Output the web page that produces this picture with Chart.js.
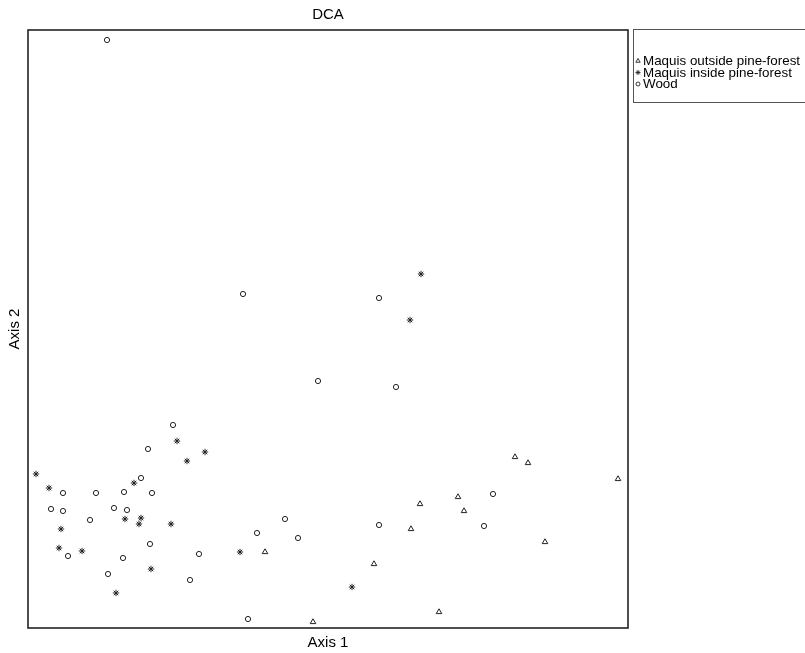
<!DOCTYPE html>
<html>
<head>
<meta charset="utf-8">
<script src="https://cdn.jsdelivr.net/npm/chart.js@4.4.1/dist/chart.umd.min.js"></script>
<style>
  html, body { margin: 0; padding: 0; background: #fff; }
  #wrap { width: 805px; height: 653px; position: relative; }
</style>
</head>
<body>
<div id="wrap"><canvas id="c"></canvas></div>
<script>
// Series labels
const seriesLabels = ["Maquis outside pine-forest", "Maquis inside pine-forest", "Wood"];

// Maquis outside pine-forest (triangles): axis 1 / axis 2 scores
const outsideX = [4.87, 5.00, 5.90, 4.30, 3.92, 4.36, 3.83, 5.17, 2.37, 3.46, 4.11, 2.85];
const outsideY = [1.71, 1.65, 1.49, 1.31, 1.24, 1.17, 0.99, 0.86, 0.76, 0.64, 0.16, 0.06];

// Maquis inside pine-forest (stars)
const insideX = [3.93, 3.82, 1.49, 1.77, 1.59, 0.08, 1.06, 0.21, 0.97, 1.13, 1.11, 1.43, 0.33, 0.31, 0.54, 2.12, 1.23, 3.24, 0.88];
const insideY = [3.54, 3.08, 1.87, 1.76, 1.67, 1.54, 1.45, 1.40, 1.09, 1.10, 1.04, 1.04, 0.99, 0.80, 0.77, 0.76, 0.59, 0.41, 0.35];

// Wood (circles)
const woodX = [0.79, 2.15, 3.51, 2.90, 3.68, 1.45, 1.20, 1.13, 0.35, 0.68, 0.96, 1.24, 0.23, 0.35, 0.86, 0.99, 0.62, 2.29, 1.22, 0.40, 0.95, 1.71, 0.80, 1.62, 2.20, 4.65, 2.57, 3.51, 4.56, 2.70];
const woodY = [5.88, 3.34, 3.30, 2.47, 2.41, 2.03, 1.79, 1.50, 1.35, 1.35, 1.36, 1.35, 1.19, 1.17, 1.20, 1.18, 1.08, 0.95, 0.84, 0.72, 0.70, 0.74, 0.54, 0.48, 0.09, 1.34, 1.09, 1.03, 1.02, 0.90];

// Axis texts
const chartTitle = "DCA";
const xTitle = "Axis 1";
const yTitle = "Axis 2";
const xRange = [0, 6.00];
const yRange = [0, 5.98];

const toPts = (xs, ys) => xs.map((x, i) => ({ x: x, y: ys[i] }));

const styles = [
  { pointStyle: 'triangle', radius: 3.2 },
  { pointStyle: 'star', radius: 3.2 },
  { pointStyle: 'circle', radius: 2.6 }
];

const datasets = [
  toPts(outsideX, outsideY),
  toPts(insideX, insideY),
  toPts(woodX, woodY)
].map((d, i) => ({
  label: seriesLabels[i],
  data: d,
  pointStyle: styles[i].pointStyle,
  pointRadius: styles[i].radius,
  pointHoverRadius: styles[i].radius,
  pointBorderWidth: 1,
  borderColor: '#222',
  pointBorderColor: '#222',
  pointBackgroundColor: 'rgba(0,0,0,0)',
  backgroundColor: 'rgba(0,0,0,0)',
  showLine: false,
  clip: false
}));

const decorPlugin = {
  id: 'decor',
  afterDraw(chart) {
    const ctx = chart.ctx;
    const a = chart.chartArea;
    ctx.save();
    // frame
    ctx.strokeStyle = '#222';
    ctx.lineWidth = 1.6;
    ctx.strokeRect(a.left, a.top, a.right - a.left, a.bottom - a.top);

    ctx.fillStyle = '#000';
    ctx.font = '15px "Liberation Sans", Arial, sans-serif';
    ctx.textAlign = 'center';
    ctx.textBaseline = 'middle';
    const cx = (a.left + a.right) / 2;
    ctx.fillText(chartTitle, cx, 15);
    ctx.fillText(xTitle, cx, 643);
    ctx.save();
    ctx.translate(15, (a.top + a.bottom) / 2);
    ctx.rotate(-Math.PI / 2);
    ctx.fillText(yTitle, 0, 0);
    ctx.restore();

    // legend box
    const lx = 633.5, ly = 29.5, lw = 180, lh = 73;
    ctx.strokeStyle = '#555';
    ctx.lineWidth = 1;
    ctx.strokeRect(lx, ly, lw, lh);
    ctx.textAlign = 'left';
    ctx.textBaseline = 'middle';
    chart.data.datasets.forEach((ds, i) => {
      const y = 61 + i * 11.5;
      ctx.strokeStyle = '#222';
      ctx.fillStyle = 'rgba(0,0,0,0)';
      ctx.lineWidth = 0.9;
      Chart.helpers.drawPoint(ctx, {
        pointStyle: ds.pointStyle,
        radius: ds.pointStyle === 'circle' ? 2 : 2.5,
        rotation: 0,
        borderWidth: 0.9
      }, 638, y);
      ctx.save();
      ctx.translate(643, y);
      ctx.scale(1.03, 1);
      ctx.fillStyle = '#000';
      ctx.font = '13px "Liberation Sans", Arial, sans-serif';
      ctx.fillText(ds.label, 0, 0.5);
      ctx.restore();
    });
    ctx.restore();
  }
};

new Chart(document.getElementById('c'), {
  type: 'scatter',
  data: { datasets: datasets },
  options: {
    responsive: true,
    maintainAspectRatio: false,
    animation: false,
    layout: { padding: { left: 28, top: 30, right: 177, bottom: 25 } },
    plugins: {
      legend: { display: false },
      title: { display: false },
      tooltip: { enabled: false }
    },
    scales: {
      x: { type: 'linear', min: xRange[0], max: xRange[1], display: false },
      y: { type: 'linear', min: yRange[0], max: yRange[1], display: false }
    }
  },
  plugins: [decorPlugin]
});
</script>
</body>
</html>
